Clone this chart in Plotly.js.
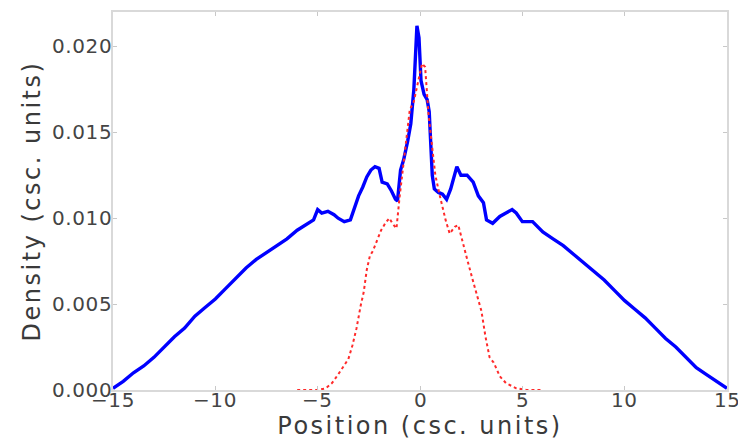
<!DOCTYPE html>
<html>
<head>
<meta charset="utf-8">
<script src="https://cdn.plot.ly/plotly-3.0.1.min.js"></script>
<style>
  html, body { margin: 0; padding: 0; background: #fff; }
  #chart { width: 738px; height: 440px; }
  .xtitle, .ytitle { letter-spacing: 2.5px; }
  .annotation-text { letter-spacing: 0.6px; }
</style>
</head>
<body>
<div id="chart"></div>
<script>
// Broad distribution (solid blue)
const broadPos = [
  -15.0, -14.5, -14.0, -13.5, -13.0, -12.5, -12.0, -11.5, -11.0, -10.5,
  -10.0, -9.5, -9.0, -8.5, -8.0, -7.5, -7.0, -6.5, -6.0, -5.5,
  -5.2, -5.0, -4.8, -4.5, -4.2, -4.0, -3.7, -3.4, -3.2, -3.0,
  -2.8, -2.6, -2.4, -2.2, -2.0, -1.85, -1.6, -1.4, -1.2, -1.1,
  -0.95, -0.8, -0.6, -0.45, -0.3, -0.15, -0.05, 0.05, 0.2, 0.35,
  0.45, 0.6, 0.7, 0.9, 1.1, 1.3, 1.5, 1.7, 1.8, 2.0,
  2.3, 2.6, 2.85, 3.1, 3.25, 3.55, 3.9, 4.2, 4.5, 4.7,
  5.0, 5.5, 6.0, 6.5, 7.0, 7.5, 8.0, 8.5, 9.0, 9.5,
  10.0, 10.5, 11.0, 11.5, 12.0, 12.5, 13.0, 13.5, 14.0, 14.5, 15.0
];
const broadDensity = [
  0.0001, 0.0005, 0.0010, 0.0014, 0.0019, 0.0025, 0.0031, 0.0036, 0.0043, 0.0048,
  0.0053, 0.0059, 0.0065, 0.0071, 0.0076, 0.0080, 0.0084, 0.0088, 0.0093, 0.0097,
  0.0099, 0.0105, 0.0103, 0.0104, 0.0102, 0.0100, 0.0098, 0.0099, 0.0106, 0.0113,
  0.0118, 0.0124, 0.0128, 0.0130, 0.0129, 0.0121, 0.0120, 0.0116, 0.0111, 0.0110,
  0.0128, 0.0134, 0.0145, 0.0155, 0.0175, 0.0212, 0.0205, 0.0180, 0.0172, 0.0169,
  0.0162, 0.0125, 0.0117, 0.0115, 0.0114, 0.0111, 0.0117, 0.0125, 0.0130, 0.0125,
  0.0125, 0.0121, 0.0113, 0.0109, 0.0099, 0.0097, 0.0101, 0.0103, 0.0105, 0.0103,
  0.0098, 0.0098, 0.0092, 0.0088, 0.0084, 0.0079, 0.0074, 0.0069, 0.0064, 0.0058,
  0.0052, 0.0047, 0.0042, 0.0036, 0.0030, 0.0025, 0.0019, 0.0013, 0.0009, 0.0005, 0.0001
];

// Narrow distribution (dotted red)
const narrowPos = [
  -6.0, -5.5, -5.0, -4.6, -4.3, -4.0, -3.7, -3.5, -3.3, -3.1,
  -2.9, -2.75, -2.6, -2.45, -2.3, -2.1, -1.9, -1.7, -1.5, -1.35,
  -1.15, -1.0, -0.85, -0.7, -0.5, -0.3, -0.15, 0.0, 0.1, 0.25,
  0.33, 0.42, 0.57, 0.75, 0.95, 1.1, 1.25, 1.45, 1.7, 1.87,
  2.1, 2.35, 2.6, 2.8, 3.0, 3.2, 3.4, 3.6, 3.9, 4.2,
  4.7, 5.2, 6.0
];
const narrowDensity = [
  0.0000, 0.0000, 0.0000, 0.0001, 0.0004, 0.0009, 0.0014, 0.0018, 0.0026, 0.0036,
  0.0049, 0.0057, 0.0070, 0.0078, 0.0081, 0.0087, 0.0093, 0.0097, 0.0100, 0.0097,
  0.0094, 0.0112, 0.0128, 0.0143, 0.0163, 0.0168, 0.0176, 0.0185, 0.0190, 0.0188,
  0.0176, 0.0160, 0.0144, 0.0125, 0.0114, 0.0106, 0.0099, 0.0091, 0.0095, 0.0096,
  0.0085, 0.0074, 0.0063, 0.0055, 0.0046, 0.0031, 0.0019, 0.0016, 0.0008, 0.0004,
  0.0001, 0.0000, 0.0000
];

const xTicks = [-15, -10, -5, 0, 5, 10, 15];
const yTicks = [0.000, 0.005, 0.010, 0.015, 0.020];
const xTickText = xTicks.map(v => v < 0 ? '\u2212' + Math.abs(v) : String(v));
const yTickText = yTicks.map(v => v.toFixed(3));

const traces = [
  {
    x: broadPos, y: broadDensity, type: 'scatter', mode: 'lines',
    line: { color: '#0000ff', width: 3.4 }, hoverinfo: 'skip'
  },
  {
    x: narrowPos, y: narrowDensity, type: 'scatter', mode: 'lines',
    line: { color: '#ff2a2a', width: 2, dash: 'dot' }, hoverinfo: 'skip'
  }
];

const tickFont = { family: 'DejaVu Sans', size: 20, color: '#444' };
const titleFont = { family: 'DejaVu Sans', size: 24, color: '#3a3a3a' };

// Tick labels hug the frame, so they are placed as annotations at each tick
const tickLabels = [
  ...xTicks.map((v, i) => ({
    x: v, xref: 'x', y: 0, yref: 'paper', yanchor: 'top', xanchor: 'center',
    yshift: 4, text: xTickText[i], showarrow: false, font: tickFont
  })),
  ...yTicks.map((v, i) => ({
    x: 0, xref: 'paper', y: v, yref: 'y', xanchor: 'right', yanchor: 'middle',
    xshift: 1, text: yTickText[i], showarrow: false, font: tickFont
  }))
];

const axisCommon = {
  showgrid: false, zeroline: false, showticklabels: false,
  showline: true, linecolor: '#d9d9d9', linewidth: 2, mirror: 'ticks',
  ticks: 'inside', ticklen: 4, tickwidth: 1, tickcolor: '#c8c8c8'
};

const layout = {
  width: 738, height: 440,
  margin: { l: 113, r: 11, t: 12, b: 50 },
  paper_bgcolor: '#fff', plot_bgcolor: '#fff',
  showlegend: false,
  annotations: tickLabels,
  xaxis: Object.assign({}, axisCommon, {
    range: [-15, 15], tickmode: 'array', tickvals: xTicks,
    title: { text: 'Position (csc. units)', standoff: 26, font: titleFont }
  }),
  yaxis: Object.assign({}, axisCommon, {
    range: [0, 0.022], tickmode: 'array', tickvals: yTicks,
    title: { text: 'Density (csc. units)', standoff: 64, font: titleFont }
  })
};

Plotly.newPlot('chart', traces, layout, { staticPlot: true, displayModeBar: false });
</script>
</body>
</html>
